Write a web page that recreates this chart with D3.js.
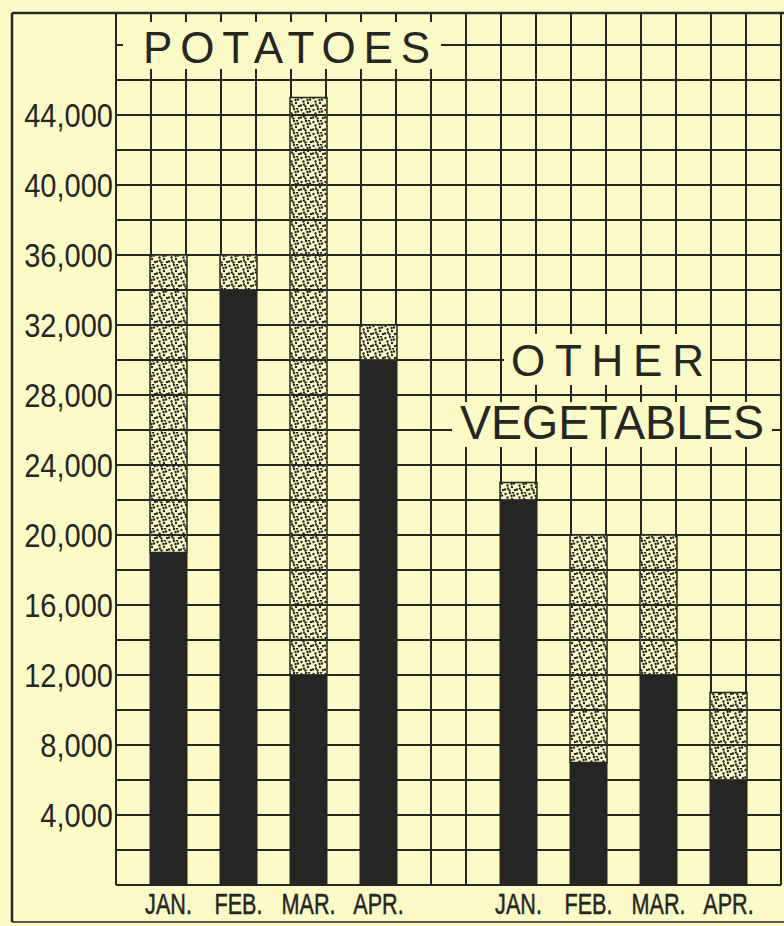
<!DOCTYPE html>
<meta charset="utf-8">
<title>Potatoes and other vegetables</title>
<script src="https://d3js.org/d3.v7.min.js"></script>
<style>
  body { margin: 0; background: #fcfbc8; overflow: hidden; }
  text { font-family: "Liberation Sans", Arial, sans-serif; fill: #262622; }
</style>
<div id="my_dataviz"></div>
<script>

// data
var months = ["JAN.", "FEB.", "MAR.", "APR."];
var potatoDark = [19000, 34000, 12000, 30000];
var potatoTotal = [36000, 36000, 45000, 32000];
var vegDark = [22000, 7000, 12000, 6000];
var vegTotal = [23000, 20000, 20000, 11000];
var yTicks = [4000, 8000, 12000, 16000, 20000, 24000, 28000, 32000, 36000, 40000, 44000];

var ink = "#262622", paper = "#fcfbc8";
var width = 784, height = 926;

var svg = d3.select("#my_dataviz")
  .append("svg")
    .attr("width", width)
    .attr("height", height);

// pattern for the stippled part
var pat = svg.append("defs").append("pattern")
  .attr("id", "stipple")
  .attr("patternUnits", "userSpaceOnUse")
  .attr("width", 12).attr("height", 12);
pat.append("rect").attr("width", 12).attr("height", 12).attr("fill", paper);
[[1.5,2],[6,1],[10,3.5],[3.5,5.5],[8,7],[1,9.5],[5.5,10.5],[11,10],[7.5,4],[4,8.5],[9,0.5]].forEach(function(p) {
  pat.append("circle").attr("cx", p[0]).attr("cy", p[1]).attr("r", 1.2).attr("fill", ink);
});

// scales: 19 grid columns, 2,000 per grid row
var columns = d3.range(19);
var x = d3.scaleBand().domain(columns).range([116, 781]);
var y = d3.scaleLinear().domain([0, 50000]).range([885, 10]);

// grid
var grid = svg.append("g").attr("stroke", ink).attr("stroke-width", 2);
grid.selectAll(".h")
  .data(d3.range(0, 48001, 2000))
  .enter().append("line")
    .attr("x1", x.range()[0]).attr("x2", x.range()[1])
    .attr("y1", function(d) { return y(d); })
    .attr("y2", function(d) { return y(d); });
grid.selectAll(".v")
  .data(d3.range(20))
  .enter().append("line")
    .attr("x1", function(d) { return x.range()[0] + d * x.bandwidth(); })
    .attr("x2", function(d) { return x.range()[0] + d * x.bandwidth(); })
    .attr("y1", 13).attr("y2", y(0));

// bars
var groups = [
  {dark: potatoDark, total: potatoTotal, first: 1},
  {dark: vegDark, total: vegTotal, first: 11}
];
var bars = [];
groups.forEach(function(g) {
  months.forEach(function(m, i) {
    bars.push({month: m, slot: g.first + 2 * i, dark: g.dark[i], total: g.total[i]});
  });
});

svg.selectAll(".stip")
  .data(bars)
  .enter().append("rect")
    .attr("x", function(d) { return x(d.slot) - 1; })
    .attr("width", x.bandwidth() + 2)
    .attr("y", function(d) { return y(d.total); })
    .attr("height", function(d) { return y(d.dark) - y(d.total); })
    .attr("fill", "url(#stipple)")
    .attr("stroke", ink).attr("stroke-width", 1.5);

// grid rows show through the stipple
svg.append("g").attr("stroke", ink).attr("stroke-width", 2)
  .selectAll("line")
  .data(bars.flatMap(function(b) {
    return d3.range(2000, 48001, 2000).filter(function(v) { return v > b.dark && v < b.total; })
      .map(function(v) { return {slot: b.slot, v: v}; });
  }))
  .enter().append("line")
    .attr("x1", function(d) { return x(d.slot); })
    .attr("x2", function(d) { return x(d.slot) + x.bandwidth(); })
    .attr("y1", function(d) { return y(d.v); })
    .attr("y2", function(d) { return y(d.v); });

svg.selectAll(".dark")
  .data(bars)
  .enter().append("rect")
    .attr("x", function(d) { return x(d.slot) - 1; })
    .attr("width", x.bandwidth() + 2)
    .attr("y", function(d) { return y(d.dark); })
    .attr("height", function(d) { return y(0) - y(d.dark); })
    .attr("fill", "#252523")
    .attr("stroke", ink).attr("stroke-width", 1);

// squeeze hand lettering a little
function squeeze(sel, k) {
  sel.each(function() {
    var w = this.getComputedTextLength();
    d3.select(this).attr("textLength", w * k).attr("lengthAdjust", "spacingAndGlyphs");
  });
}

// y labels
svg.selectAll(".ylab")
  .data(yTicks)
  .enter().append("text")
    .attr("x", 113)
    .attr("y", function(d) { return y(d) + 12; })
    .attr("text-anchor", "end")
    .attr("font-size", "33px")
    .text(function(d) { return d3.format(",")(d); })
    .call(squeeze, 0.88);

// month labels
svg.selectAll(".xlab")
  .data(bars)
  .enter().append("text")
    .attr("x", function(d) { return x(d.slot) + x.bandwidth() / 2; })
    .attr("y", 914)
    .attr("text-anchor", "middle")
    .attr("font-size", "30px")
    .attr("stroke", ink).attr("stroke-width", 0.5)
    .text(function(d) { return d.month; })
    .call(squeeze, 0.72);

// title boxes
var boxes = [
  {x0: 123, x1: 441, y0: 22, y1: 69},
  {x0: 504, x1: 710, y0: 334, y1: 385},
  {x0: 452, x1: 772, y0: 402, y1: 447}
];
svg.selectAll(".box")
  .data(boxes)
  .enter().append("rect")
    .attr("x", function(d) { return d.x0; })
    .attr("y", function(d) { return d.y0; })
    .attr("width", function(d) { return d.x1 - d.x0; })
    .attr("height", function(d) { return d.y1 - d.y0; })
    .attr("fill", paper);

var titles = [
  {text: "POTATOES", x: 143, y: 63, len: 287, size: 44, adj: "spacing"},
  {text: "OTHER", x: 511, y: 376, len: 193, size: 44, adj: "spacing"},
  {text: "VEGETABLES", x: 460, y: 439, len: 304, size: 48, adj: "spacingAndGlyphs"}
];
svg.selectAll(".title")
  .data(titles)
  .enter().append("text")
    .attr("x", function(d) { return d.x; })
    .attr("y", function(d) { return d.y; })
    .attr("font-size", function(d) { return d.size + "px"; })
    .attr("textLength", function(d) { return d.len; })
    .attr("lengthAdjust", function(d) { return d.adj; })
    .text(function(d) { return d.text; });

// outer frame
var frame = svg.append("g").attr("stroke", ink).attr("stroke-width", 2.5).attr("fill", "none");
frame.append("line").attr("x1", 12).attr("x2", 12).attr("y1", 13).attr("y2", 922);
frame.append("line").attr("x1", 12).attr("x2", 784).attr("y1", 13).attr("y2", 13);
frame.append("line").attr("x1", 12).attr("x2", 784).attr("y1", 922).attr("y2", 922).attr("stroke-width", 1.5);

</script>
